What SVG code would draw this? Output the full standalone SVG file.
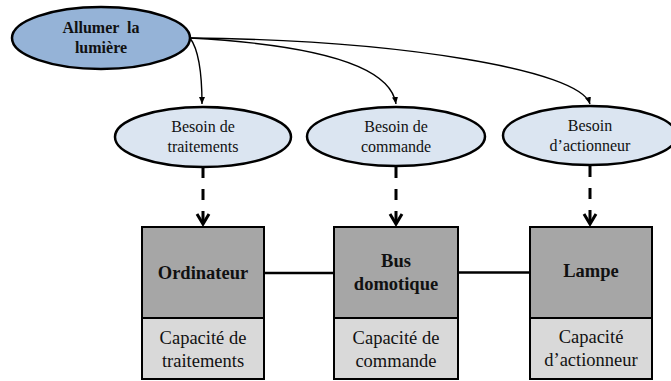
<svg xmlns="http://www.w3.org/2000/svg" width="671" height="381" viewBox="0 0 671 381">
<style>
.t{font-family:"Liberation Serif","Times New Roman",serif;fill:#111;text-anchor:middle}
.b{font-weight:bold}
.main{fill:#95b3d7;stroke:#000;stroke-width:2.5}
.need{fill:#dbe5f1;stroke:#000;stroke-width:2.5}
.dark{fill:#a6a6a6;stroke:#000;stroke-width:2}
.light{fill:#d9d9d9;stroke:#000;stroke-width:2}
.curve{fill:none;stroke:#000;stroke-width:1.4}
.dash{fill:none;stroke:#000;stroke-width:3;stroke-dasharray:11 11}
.link{stroke:#000;stroke-width:2.5}
</style>
<defs>
<marker id="ah" markerWidth="8" markerHeight="8" refX="7" refY="4" orient="auto" markerUnits="userSpaceOnUse">
<path d="M0,1 L7,4 L0,7 Z" fill="#000"/>
</marker>
</defs>
<g id="connectors">
<path class="curve" d="M190,38 C199,50 202,78 202,104" marker-end="url(#ah)"/>
<path class="curve" d="M190,38 C300,44 390,62 396,104" marker-end="url(#ah)"/>
<path class="curve" d="M190,38 C400,40 580,70 590,104" marker-end="url(#ah)"/>
<path class="dash" d="M203,167 V224"/>
<path class="dash" d="M396,167 V224"/>
<path class="dash" d="M590,166 V224"/>
<path d="M197,214 L203,224 L209,214" fill="none" stroke="#000" stroke-width="3"/>
<path d="M390,214 L396,224 L402,214" fill="none" stroke="#000" stroke-width="3"/>
<path d="M584,214 L590,224 L596,214" fill="none" stroke="#000" stroke-width="3"/>
<line class="link" x1="264" y1="273" x2="334" y2="273"/>
<line class="link" x1="458" y1="272.5" x2="530" y2="272.5"/>
</g>
<g id="allumer">
<ellipse class="main" cx="101" cy="38" rx="89" ry="31"/>
<text class="t b" x="101" y="33" font-size="16" xml:space="preserve" style="white-space:pre">Allumer  la</text>
<text class="t b" x="101" y="53" font-size="16">lumière</text>
</g>
<g id="besoin-traitements">
<ellipse class="need" cx="203" cy="137" rx="88" ry="30"/>
<text class="t" x="203" y="132" font-size="16">Besoin de</text>
<text class="t" x="203" y="152" font-size="16">traitements</text>
</g>
<g id="besoin-commande">
<ellipse class="need" cx="396" cy="136.5" rx="89" ry="29.5"/>
<text class="t" x="396" y="132" font-size="16">Besoin de</text>
<text class="t" x="396" y="152" font-size="16">commande</text>
</g>
<g id="besoin-actionneur">
<ellipse class="need" cx="590" cy="135.5" rx="87" ry="29.5"/>
<text class="t" x="590" y="131" font-size="16">Besoin</text>
<text class="t" x="590" y="151" font-size="16">d’actionneur</text>
</g>
<g id="ordinateur">
<rect class="dark" x="142" y="227" width="122" height="91"/>
<rect class="light" x="142" y="318" width="122" height="61"/>
<text class="t b" x="203" y="279" font-size="18.5">Ordinateur</text>
<text class="t" x="203" y="344" font-size="18.5">Capacité de</text>
<text class="t" x="203" y="367" font-size="18.5">traitements</text>
</g>
<g id="bus">
<rect class="dark" x="334" y="227" width="124" height="91"/>
<rect class="light" x="334" y="318" width="124" height="61"/>
<text class="t b" x="396" y="267" font-size="18.5">Bus</text>
<text class="t b" x="396" y="290" font-size="18.5">domotique</text>
<text class="t" x="396" y="344" font-size="18.5">Capacité de</text>
<text class="t" x="396" y="367" font-size="18.5">commande</text>
</g>
<g id="lampe">
<rect class="dark" x="530" y="227" width="122" height="91"/>
<rect class="light" x="530" y="318" width="122" height="61"/>
<text class="t b" x="591" y="277" font-size="18.5">Lampe</text>
<text class="t" x="591" y="343" font-size="18.5">Capacité</text>
<text class="t" x="591" y="366" font-size="18.5">d’actionneur</text>
</g>
</svg>
